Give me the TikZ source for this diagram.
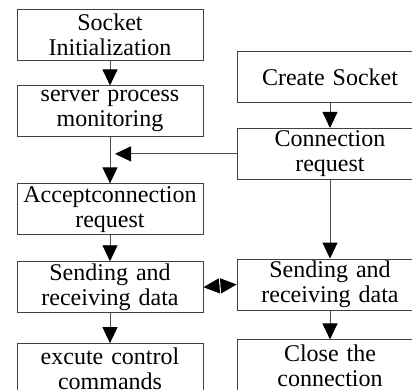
\documentclass[tikz,border=0pt]{standalone}
\usepackage{fontspec}
\setmainfont{Liberation Serif}
\usetikzlibrary{arrows.meta,positioning}

\begin{document}
\begin{tikzpicture}[inner sep=1pt,
    >={Triangle[length=16pt,width=15pt,color=black]},
    step box/.style={rectangle,draw=black!75,line width=0.9pt,
      text width=184pt,minimum height=51pt,align=center,
      font=\fontsize{24}{25}\selectfont},
    flow/.style={draw=black!70,line width=0.9pt}]
    \clip (0,0) rectangle (412pt,-390pt);
    % server side
    \node[step box] (init) at (110pt,-34.5pt) {Socket\\Initialization};
    \node[step box] (listen) [below=25pt of init] {server process\\monitoring};
    \node[step box] (accept) [below=46pt of listen] {Acceptconnection\\request};
    \node[step box] (ssend) [below=26pt of accept] {Sending and\\receiving data};
    \node[step box] (exec) [below=30pt of ssend] {excute control\\commands};
    % client side
    \node[step box] (create) at (330pt,-77pt) {Create Socket};
    \node[step box] (connect) [below=25pt of create] {Connection\\request};
    \node[step box] (csend) at (330pt,-284.5pt) {Sending and\\receiving data};
    \node[step box] (close) [below=29pt of csend] {Close the\\connection};
    \path (listen.south |- connect.west) ++(5pt,0) coordinate (join);
    \draw[flow,->] (init) -- (listen);
    \draw[flow,->] (listen) -- (accept);
    \draw[flow,->] (accept) -- (ssend);
    \draw[flow,->] (ssend) -- (exec);
    \draw[flow,->] (create) -- (connect);
    \draw[flow,->] (connect) -- (csend);
    \draw[flow,->] (csend) -- (close);
    \draw[flow,->] (connect.west) -- (join);
    \draw[flow,<->] (ssend.east) -- (csend.west);
  \end{tikzpicture}
\end{document}
